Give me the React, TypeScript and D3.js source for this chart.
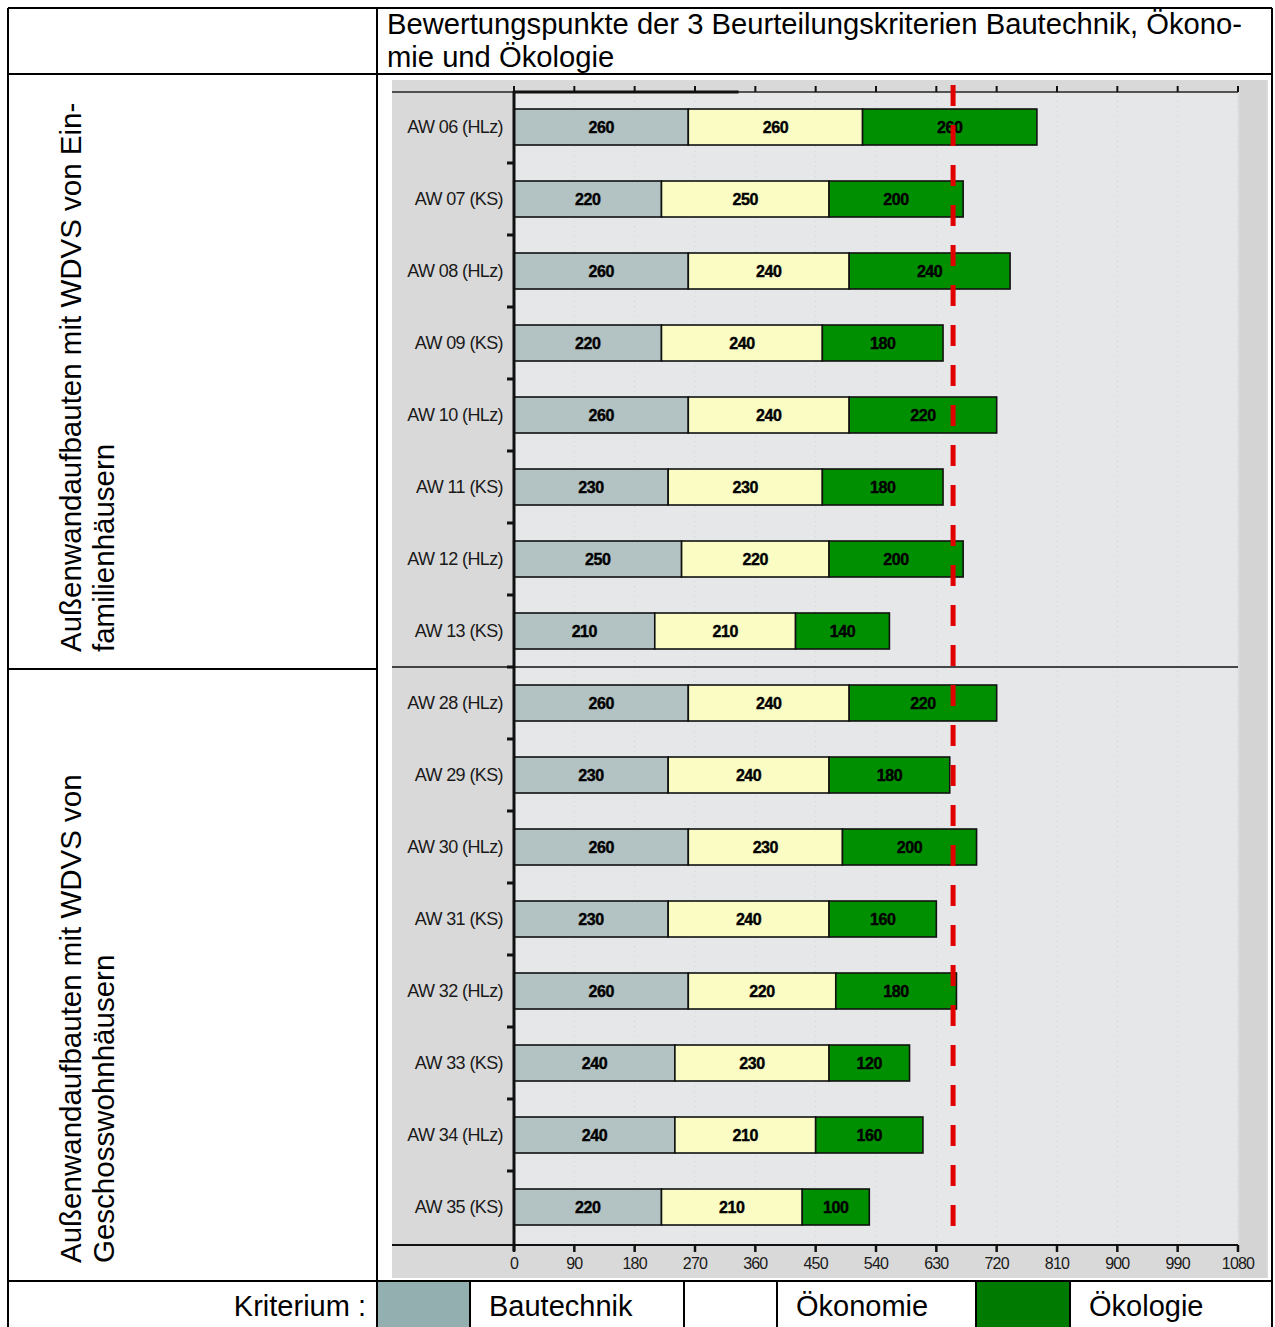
import React from "react";
import * as d3 from "d3";

const categories = [
  "AW 06 (HLz)", "AW 07 (KS)", "AW 08 (HLz)", "AW 09 (KS)", "AW 10 (HLz)", "AW 11 (KS)", "AW 12 (HLz)", "AW 13 (KS)",
  "AW 28 (HLz)", "AW 29 (KS)", "AW 30 (HLz)", "AW 31 (KS)", "AW 32 (HLz)", "AW 33 (KS)", "AW 34 (HLz)", "AW 35 (KS)",
];
const bautechnik = [260, 220, 260, 220, 260, 230, 250, 210, 260, 230, 260, 230, 260, 240, 240, 220];
const oekonomie = [260, 250, 240, 240, 240, 230, 220, 210, 240, 240, 230, 240, 220, 230, 210, 210];
const oekologie = [260, 200, 240, 180, 220, 180, 200, 140, 220, 180, 200, 160, 180, 120, 160, 100];
const xTicks = [0, 90, 180, 270, 360, 450, 540, 630, 720, 810, 900, 990, 1080];
const threshold = 655;
const seriesNames = ["Bautechnik", "Ökonomie", "Ökologie"];
const seriesColors = ["#b3c2c2", "#fafcc4", "#008f00"];
const legendColors = ["#93afaf", "#ffffff", "#007a00"];
const title = ["Bewertungspunkte der 3 Beurteilungskriterien Bautechnik, Ökono-", "mie und Ökologie"];
const groupLabels = [
  ["Außenwandaufbauten mit WDVS von Ein-", "familienhäusern"],
  ["Außenwandaufbauten mit WDVS von", "Geschosswohnhäusern"],
];

const FONT = "'Liberation Sans', Arial, Helvetica, sans-serif";

export default function App() {
  const x = d3.scaleLinear().domain([0, 1080]).range([514, 1238]);
  const y = d3.scaleBand<string>().domain(categories).range([91, 1243]).paddingInner(0.5).paddingOuter(0.25);
  const bw = y.bandwidth();
  const step = y.step();
  const rows = categories.map((c, i) => ({ c, vals: [bautechnik[i], oekonomie[i], oekologie[i]] }));
  const stackData = categories.map((c, i) => ({ c, b: bautechnik[i], o: oekonomie[i], e: oekologie[i] }));
  const stack = d3.stack<any>().keys(["b", "o", "e"])(stackData);
  const divIndex = 8;
  const divY = (y(categories[divIndex]) as number) - (step - bw) / 2;
  const plotTop = 91;
  const plotBottom = 1245;

  return (
    <svg width={1275} height={1327} style={{ position: "absolute", left: 0, top: 0, background: "#fff" }} fontFamily={FONT}>
      {/* chart picture background */}
      <rect x={392} y={80} width={876} height={1198} fill="#d9d9d9" />
      <rect x={x(0)} y={plotTop} width={x(1080) - x(0)} height={plotBottom - plotTop} fill="#e6e7e8" />
      <rect x={1240} y={80} width={26} height={1198} fill="#d4d4d4" />
      {/* faint gridlines */}
      {xTicks.slice(1).map((t) => (
        <line key={"g" + t} x1={x(t)} x2={x(t)} y1={plotTop} y2={plotBottom} stroke="#d2d3d4" strokeWidth={1} strokeDasharray="1 4" />
      ))}
      {/* bars */}
      {stack.map((s, si) => (
        <g key={si}>
          {s.map((d: any, i: number) => (
            <g key={i}>
              <rect x={x(d[0])} y={y(categories[i])} width={x(d[1]) - x(d[0])} height={bw}
                fill={seriesColors[si]} stroke="#111" strokeWidth={1.6} />
              <text x={(x(d[0]) + x(d[1])) / 2} y={(y(categories[i]) as number) + bw / 2 + 6}
                textAnchor="middle" fontSize={16} fontWeight="bold" fill="#000" letterSpacing={-0.4}
                stroke="#000" strokeWidth={0.4}>
                {rows[i].vals[si]}
              </text>
            </g>
          ))}
        </g>
      ))}
      {/* category labels */}
      {categories.map((c) => (
        <text key={c} x={503} y={(y(c) as number) + bw / 2 + 6} textAnchor="end" fontSize={18} fill="#1a1a1a" letterSpacing={-0.6}>
          {c}
        </text>
      ))}
      {/* left category ticks */}
      {categories.slice(0, -1).map((c) => {
        const yy = (y(c) as number) + bw + (step - bw) / 2;
        return <line key={"t" + c} x1={507} x2={514} y1={yy} y2={yy} stroke="#111" strokeWidth={3} />;
      })}
      {/* group divider */}
      <line x1={392} x2={x(1080)} y1={divY} y2={divY} stroke="#111" strokeWidth={1.5} />
      {/* top axis */}
      <line x1={392} x2={x(1080)} y1={92} y2={92} stroke="#222" strokeWidth={1.5} />
      <line x1={x(0)} x2={x(335)} y1={92} y2={92} stroke="#111" strokeWidth={3} />
      {xTicks.map((t) => (
        <line key={"tt" + t} x1={x(t)} x2={x(t)} y1={86} y2={92} stroke="#111" strokeWidth={2} />
      ))}
      {/* y axis */}
      <line x1={x(0)} x2={x(0)} y1={plotTop} y2={plotBottom + 6} stroke="#111" strokeWidth={3} />
      {/* threshold dashed red line */}
      <line x1={x(threshold)} x2={x(threshold)} y1={85} y2={plotBottom} stroke="#e00000" strokeWidth={5} strokeDasharray="21 19" />
      {/* bottom axis */}
      <line x1={392} x2={x(1080)} y1={plotBottom} y2={plotBottom} stroke="#111" strokeWidth={2} />
      {xTicks.map((t) => (
        <g key={"bt" + t}>
          <line x1={x(t)} x2={x(t)} y1={plotBottom} y2={plotBottom + 7} stroke="#111" strokeWidth={2.5} />
          <text x={x(t)} y={plotBottom + 24} textAnchor="middle" fontSize={16} fill="#1a1a1a" letterSpacing={-0.8}>{t}</text>
        </g>
      ))}

      {/* table grid */}
      <g stroke="#000" strokeWidth={2}>
        <line x1={8} x2={1272} y1={8} y2={8} />
        <line x1={8} x2={8} y1={8} y2={1327} />
        <line x1={1272} x2={1272} y1={8} y2={1327} />
        <line x1={377} x2={377} y1={8} y2={1327} />
        <line x1={8} x2={1272} y1={74} y2={74} />
        <line x1={8} x2={377} y1={669} y2={669} />
        <line x1={8} x2={1272} y1={1281} y2={1281} />
      </g>
      {/* title */}
      {title.map((t, i) => (
        <text key={t} x={387} y={34 + i * 33} fontSize={29.2} fill="#000">{t}</text>
      ))}
      {/* group labels rotated */}
      {groupLabels.map((g, gi) =>
        g.map((t, li) => (
          <text key={t} transform={`translate(${81 + li * 33},${gi === 0 ? 652 : 1263}) rotate(-90)`} fontSize={29.5} fill="#000">{t}</text>
        ))
      )}
      {/* legend */}
      <text x={366} y={1316} textAnchor="end" fontSize={29} fill="#000">Kriterium :</text>
      {[[377, 470, 684], [684, 777, 976], [976, 1070, 1272]].map(([a, b, c], i) => (
        <g key={i}>
          <rect x={a + 1} y={1282} width={b - a - 2} height={45} fill={legendColors[i]} />
          <line x1={b} x2={b} y1={1281} y2={1327} stroke="#000" strokeWidth={2} />
          {i < 2 && <line x1={c} x2={c} y1={1281} y2={1327} stroke="#000" strokeWidth={2} />}
          <text x={b + 19} y={1316} fontSize={29} fill="#000">{seriesNames[i]}</text>
        </g>
      ))}
    </svg>
  );
}
